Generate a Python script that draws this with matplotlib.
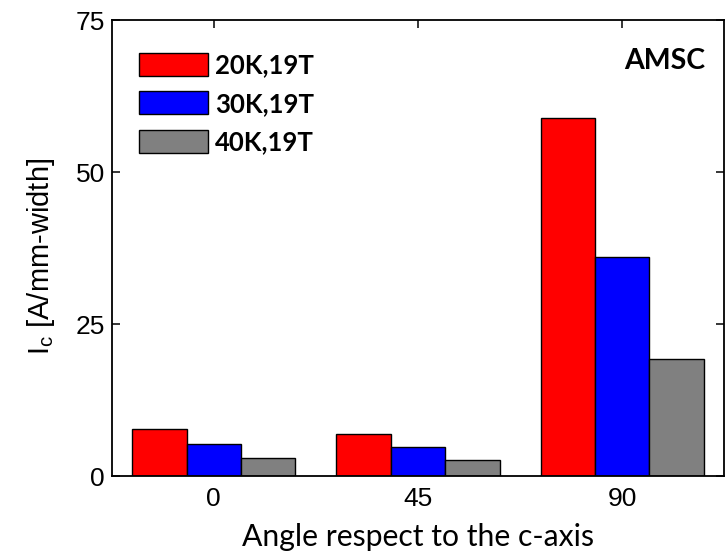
import matplotlib
matplotlib.use("Agg")
import matplotlib.pyplot as plt
import numpy as np

angles = ["0", "45", "90"]
series_labels = ["20K,19T", "30K,19T", "40K,19T"]
ic_20K = [7.8, 6.9, 58.8]
ic_30K = [5.3, 4.7, 36.1]
ic_40K = [3.0, 2.7, 19.3]
y_ticks = [0, 25, 50, 75]
colors = ["#FF0000", "#0000FF", "#808080"]

plt.rcParams["font.family"] = ["Liberation Sans", "DejaVu Sans"]
plt.rcParams["mathtext.fontset"] = "custom"
plt.rcParams["mathtext.rm"] = "Liberation Sans"

W, H = 728, 557
fig = plt.figure(figsize=(W / 100, H / 100), dpi=100)
L, R, T, B = 111.7, 724.3, 20, 476
ax = fig.add_axes([L / W, (H - B) / H, (R - L) / W, (B - T) / H])

x = np.arange(len(angles))
width = 0.8 / 3
for i, (vals, lab, c) in enumerate(zip([ic_20K, ic_30K, ic_40K], series_labels, colors)):
    ax.bar(x + (i - 1) * width, vals, width, color=c, edgecolor="black",
           linewidth=1.0, label=lab, zorder=2)

ax.set_xlim(-0.5, 2.5)
ax.set_ylim(0, 75)
ax.set_xticks(x)
ax.set_xticklabels(angles, fontfamily="Liberation Sans")
ax.set_yticks(y_ticks)
ax.set_yticklabels([str(v) for v in y_ticks], fontfamily="Liberation Sans")

for s in ax.spines.values():
    s.set_linewidth(1.3)
ax.tick_params(direction="in", length=5.8, width=1.1, top=True, right=True,
               labelsize=19, pad=5)
ax.tick_params(axis="x", pad=8)

ax.set_xlabel("Angle respect to the c-axis", fontsize=21.7, family=["Lato", "DejaVu Sans"])
ax.xaxis.label.set_va("baseline")
ax.xaxis.set_label_coords(0.5, (B - 545.7) / (B - T))

ax.set_ylabel(r"I$_\mathregular{c}$ [A/mm-width]", fontsize=21, family="Liberation Sans")
ax.yaxis.set_label_coords((57 - L) / (R - L), 0.482)

fs = 18.5
fpx = fs * 100 / 72
leg = ax.legend(loc="upper left",
                bbox_to_anchor=((139 - L) / (R - L), (B - 52.5) / (B - T)),
                frameon=False, borderpad=0, borderaxespad=0,
                handlelength=69 / fpx, handleheight=26 / fpx, handletextpad=0.28,
                labelspacing=0.56,
                prop={"family": "Lato", "weight": "bold", "size": fs})

ax.text((705.7 - L) / (R - L), (B - 69) / (B - T), "AMSC", transform=ax.transAxes,
        ha="right", va="baseline", fontsize=20.5, fontweight="bold", family="Lato")

fig.savefig("out.png", dpi=100)
